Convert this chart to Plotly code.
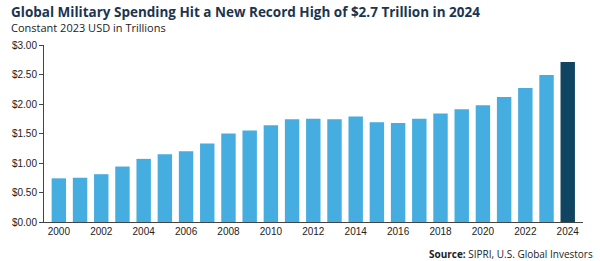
import plotly.graph_objects as go

years = list(range(2000, 2025))
spending = [0.74, 0.75, 0.81, 0.94, 1.07, 1.15, 1.20, 1.33, 1.50, 1.55, 1.64, 1.74, 1.75,
            1.74, 1.79, 1.69, 1.68, 1.75, 1.84, 1.91, 1.98, 2.12, 2.27, 2.49, 2.71]
y_ticks = [0, 0.5, 1.0, 1.5, 2.0, 2.5, 3.0]
y_labels = ["$0.00", "$0.50", "$1.00", "$1.50", "$2.00", "$2.50", "$3.00"]
x_ticks = list(range(2000, 2025, 2))

light = "#45ADDF"
dark = "#0F4560"
colors = [dark if y == 2024 else light for y in years]

fig = go.Figure(go.Bar(x=years, y=spending, marker_color=colors, marker_line_width=0, width=0.68))

fig.update_layout(
    width=600, height=261,
    margin=dict(l=38, r=17, t=45, b=39),
    plot_bgcolor="white", paper_bgcolor="white",
    showlegend=False,
    font=dict(family="Liberation Sans, Arial", size=10, color="#222"),
)
fig.update_xaxes(range=[1999.3, 2024.72], tickvals=x_ticks, ticktext=[str(t) for t in x_ticks],
                 showgrid=False, zeroline=False, showline=True, linecolor="#444", linewidth=1,
                 ticks="", tickfont=dict(size=10, color="#222"))
fig.update_yaxes(range=[0, 3.0], tickvals=y_ticks, ticktext=y_labels, showgrid=False,
                 zeroline=False, showline=True, linecolor="#444", linewidth=1,
                 ticks="outside", ticklen=4, tickcolor="#444", tickfont=dict(size=10, color="#222"))

fig.add_annotation(text="<b>Global Military Spending Hit a New Record High of $2.7 Trillion in 2024</b>",
                   xref="paper", yref="paper", x=-0.065, y=1.0, yshift=45 - 1,
                   xanchor="left", yanchor="top", showarrow=False,
                   font=dict(family="Open Sans, Arial", size=13.5, color="#1B3550"))
fig.add_annotation(text="Constant 2023 USD in Trillions",
                   xref="paper", yref="paper", x=-0.065, y=1.0, yshift=45 - 18,
                   xanchor="left", yanchor="top", showarrow=False,
                   font=dict(family="Open Sans, Arial", size=11, color="#222"))
fig.add_annotation(text="<b>Source:</b> SIPRI, U.S. Global Investors",
                   xref="paper", yref="paper", x=1.0, y=0, yshift=-23, xshift=12,
                   xanchor="right", yanchor="top", showarrow=False,
                   font=dict(family="Open Sans, Arial", size=10, color="#222"))

fig.write_html("out.html")
